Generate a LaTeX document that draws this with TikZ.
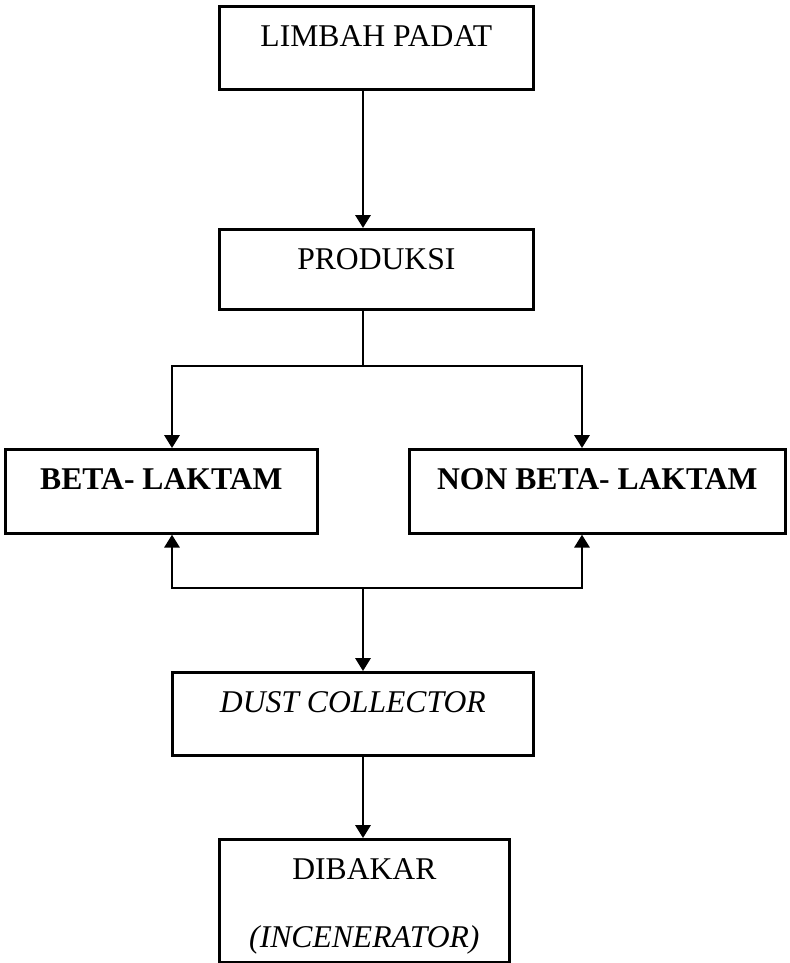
\documentclass[tikz,border=0pt]{standalone}
\usepackage{fontspec}
\setmainfont{Liberation Serif}
\usetikzlibrary{arrows.meta,positioning}

\begin{document}
\begin{tikzpicture}[
  x=0.025cm, y=-0.025cm,
  box/.style={rectangle, draw, line width=1.9pt, inner sep=0pt, align=center, font=\fontsize{22.5}{27}\selectfont, text height=1cm, anchor=north west},
  arrow/.style={-{Triangle[length=0.32cm,width=0.38cm]}, line width=1.5pt},
  line/.style={line width=1.5pt}
]
  \useasboundingbox (0,0) rectangle (790,963);
  \node[box, minimum width=7.85cm, text depth=1.075cm] (limbah) at (218,5) {LIMBAH PADAT};
  \node[box, minimum width=7.85cm, text depth=1cm, below=3.43cm of limbah] (produksi) {PRODUKSI};
  \node[box, minimum width=7.8cm, text depth=1.1cm] (beta) at (4,448) {\textbf{BETA- LAKTAM}};
  \node[box, minimum width=9.4cm, text depth=1.1cm, right=2.23cm of beta] (nonbeta) {\textbf{NON BETA- LAKTAM}};
  \node[box, minimum width=9.025cm, text depth=1.075cm] (dust) at (171,671) {\textit{DUST COLLECTOR}};
  \node[box, minimum width=7.25cm, text depth=2.075cm] (dibakar) at (218,838) {DIBAKAR};
  \node[font=\fontsize{22.5}{27}\selectfont, above=0.4cm of dibakar.south, anchor=base] (incen) {\textit{(INCENERATOR)}};
  \coordinate (mid) at (363,0);
  \coordinate (lft) at (172,0);
  \coordinate (rgt) at (582,0);
  \coordinate (split) at (363,366);
  \coordinate (merge) at (363,588);
  \draw[arrow] (limbah.south -| mid) -- (produksi.north -| mid);
  \draw[line] (produksi.south -| mid) -- (split);
  \draw[arrow] (split) -| (beta.north -| lft);
  \draw[arrow] (split) -| (nonbeta.north -| rgt);
  \draw[arrow] (merge) -| (beta.south -| lft);
  \draw[arrow] (merge) -| (nonbeta.south -| rgt);
  \draw[arrow] (merge) -- (dust.north -| mid);
  \draw[arrow] (dust.south -| mid) -- (dibakar.north -| mid);
\end{tikzpicture}
\end{document}
